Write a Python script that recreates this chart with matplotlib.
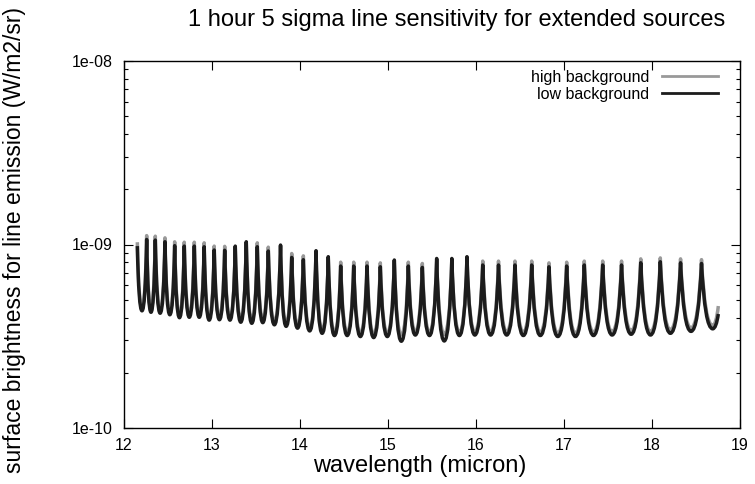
import matplotlib.pyplot as plt
from matplotlib.path import Path
from matplotlib.patches import PathPatch

plt.rcParams['font.family'] = ['Liberation Sans', 'DejaVu Sans']

# order edges = cusp peaks (micron)
peak_wl = [12.157, 12.263, 12.361, 12.471, 12.581, 12.690, 12.804, 12.916, 13.030, 13.149,
           13.269, 13.394, 13.519, 13.644, 13.783, 13.910, 14.042, 14.186, 14.325, 14.466,
           14.614, 14.765, 14.916, 15.075, 15.234, 15.393, 15.556, 15.728, 15.900, 16.079,
           16.258, 16.445, 16.635, 16.831, 17.032, 17.232, 17.441, 17.655, 17.873, 18.095,
           18.325, 18.563]
last_trough_wl = 18.690
end_wl = 18.754

# low background (units of 1e-10 W/m2/sr)
low_peak = [9.80, 10.65, 10.57, 10.35, 9.85, 9.80, 9.80, 9.72, 9.33, 9.30,
            9.80, 10.35, 9.72, 9.21, 9.93, 8.50, 8.26, 9.25, 8.58, 7.63,
            7.63, 7.63, 7.56, 8.23, 7.63, 7.50, 8.39, 8.39, 8.58, 7.73,
            7.73, 7.73, 7.73, 7.56, 7.63, 7.73, 7.73, 7.73, 7.95, 8.05,
            7.95, 7.88]
low_trough = [4.35, 4.27, 4.22, 4.14, 3.99, 4.01, 4.01, 3.87, 3.89, 3.87,
              3.77, 3.72, 3.75, 3.65, 3.58, 3.50, 3.38, 3.28, 3.19, 3.19,
              3.15, 3.11, 3.15, 2.97, 3.21, 3.19, 2.98, 3.19, 3.21, 3.21,
              3.21, 3.19, 3.19, 3.15, 3.15, 3.19, 3.21, 3.24, 3.21, 3.28,
              3.36, 3.47]
low_end = 4.18

# high background
high_peak = [10.29, 11.18, 11.10, 10.87, 10.34, 10.29, 10.29, 10.21, 9.80, 9.77,
             9.70, 10.25, 10.21, 9.67, 9.83, 8.93, 8.67, 9.16, 8.49, 8.01,
             8.01, 8.01, 7.94, 8.15, 8.01, 7.88, 8.31, 8.31, 8.49, 8.12,
             8.12, 8.12, 8.12, 7.94, 8.01, 8.12, 8.12, 8.12, 8.35, 8.45,
             8.35, 8.27]
high_trough = [4.55, 4.46, 4.41, 4.33, 4.17, 4.19, 4.19, 4.04, 4.07, 4.04,
               3.94, 3.89, 3.92, 3.81, 3.74, 3.66, 3.53, 3.43, 3.33, 3.33,
               3.29, 3.25, 3.29, 3.22, 3.35, 3.33, 3.24, 3.33, 3.35, 3.35,
               3.35, 3.33, 3.33, 3.29, 3.29, 3.33, 3.35, 3.39, 3.35, 3.43,
               3.51, 3.62]
high_end = 4.62


def order_path(peaks, troughs, end_val, a=0.3):
    # cusp at each order edge, rounded minimum in the middle of the order
    s = 1e-10
    verts = [(peak_wl[0], peaks[0] * s)]
    codes = [Path.MOVETO]
    for i in range(len(peak_wl)):
        left = peak_wl[i]
        if i + 1 < len(peak_wl):
            right, top = peak_wl[i + 1], peaks[i + 1]
            mid = (left + right) / 2
        else:
            right, top = end_wl, end_val
            mid = last_trough_wl
        tr = troughs[i] * s
        verts += [(left + a * (mid - left), tr), (mid, tr)]
        if i + 1 < len(peak_wl):
            verts += [(right - a * (right - mid), tr), (right, top * s)]
        else:
            verts += [(mid + 0.6 * (right - mid), tr), (right, top * s)]
        codes += [Path.CURVE3] * 4
    return Path(verts, codes)


fig = plt.figure(figsize=(7.55, 4.84), dpi=100)
ax = fig.add_axes([123.5 / 755, 1 - 428 / 484, (740 - 123.5) / 755, (428 - 61) / 484])

ax.add_patch(PathPatch(order_path(high_peak, high_trough, high_end), fill=False,
                       edgecolor='#999999', lw=2.5, joinstyle='round'))
ax.add_patch(PathPatch(order_path(low_peak, low_trough, low_end), fill=False,
                       edgecolor='#1c1c1c', lw=2.5, joinstyle='round'))
ax.plot([], [], color='#999999', lw=2, label='high background')
ax.plot([], [], color='#1c1c1c', lw=2, label='low background')

ax.set_yscale('log')
ax.set_xlim(12, 19)
ax.set_ylim(1e-10, 1e-8)
ax.set_xticks(range(12, 20))
ax.set_yticks([1e-10, 1e-9, 1e-8], ['1e-10', '1e-09', '1e-08'])
ax.tick_params(which='both', direction='in', top=True, right=True, width=0.8, labelsize=11.5)
ax.tick_params(which='major', length=6.5)
ax.tick_params(which='minor', length=3.2)
ax.tick_params(axis='y', pad=8)
ax.tick_params(axis='x', pad=7)
for sp in ax.spines.values():
    sp.set_linewidth(1.0)

fig.text(457 / 755, 1 - 20 / 484, '1 hour 5 sigma line sensitivity for extended sources',
         ha='center', va='center', fontsize=17)
fig.text(420 / 755, 1 - 466 / 484, 'wavelength (micron)', ha='center', va='center', fontsize=17)
fig.text(15 / 755, 1 - 240 / 484, 'surface brightness for line emission (W/m2/sr)',
         ha='center', va='center', rotation=90, fontsize=16.5)

ax.legend(loc='upper right', bbox_to_anchor=(718 / 755, 1 - 70 / 484), bbox_transform=fig.transFigure,
          frameon=False, markerfirst=False, fontsize=11.5, handlelength=3.5, handletextpad=0.8,
          labelspacing=0.1, borderpad=0, borderaxespad=0)

fig.savefig('out.png', dpi=100)
